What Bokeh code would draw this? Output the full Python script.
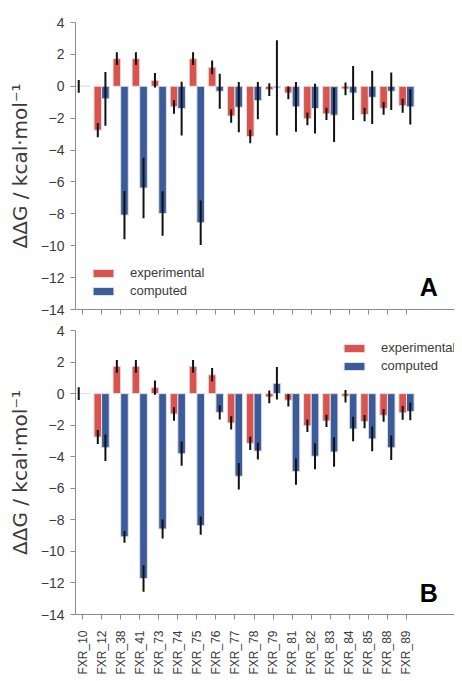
import math
import numpy as np
from bokeh.plotting import figure
from bokeh.models import Range1d, FixedTicker, Legend, LegendItem, Label, ColumnDataSource
from bokeh.layouts import column
from bokeh.transform import dodge
from bokeh.embed import file_html
from bokeh.resources import INLINE

nan = float("nan")

names = ["FXR_10", "FXR_12", "FXR_38", "FXR_41", "FXR_73", "FXR_74", "FXR_75", "FXR_76", "FXR_77",
         "FXR_78", "FXR_79", "FXR_81", "FXR_82", "FXR_83", "FXR_84", "FXR_85", "FXR_88", "FXR_89"]

experimental = [0.0, -2.75, 1.73, 1.73, 0.38, -1.29, 1.73, 1.19, -1.86,
                -3.15, -0.21, -0.42, -2.04, -1.73, -0.17, -1.77, -1.38, -1.22]
experimental_err = [0.40, 0.44, 0.40, 0.40, 0.45, 0.43, 0.40, 0.43, 0.42,
                    0.42, 0.40, 0.40, 0.40, 0.39, 0.40, 0.42, 0.40, 0.44]

computed_a = [0.0, -0.79, -8.08, -6.38, -7.98, -1.40, -8.56, -0.31, -1.31,
              -0.90, -0.10, -1.29, -1.40, -1.81, -0.42, -0.69, -0.31, -1.29]
computed_a_err = [nan, 1.68, 1.51, 1.90, 1.40, 1.69, 1.39, 1.10, 1.58,
                  1.17, 2.98, 1.56, 1.56, 1.69, 1.69, 1.67, 1.18, 1.10]

computed_b = [0.0, -3.43, -9.08, -11.72, -8.58, -3.81, -8.37, -1.19, -5.23,
              -3.64, 0.65, -4.94, -3.97, -3.70, -2.24, -2.87, -3.43, -1.13]
computed_b_err = [nan, 0.84, 0.37, 0.84, 0.60, 0.77, 0.58, 0.45, 0.84,
                  0.54, 1.03, 0.83, 0.83, 0.94, 0.78, 0.78, 0.78, 0.56]

y_ticks = [4, 2, 0, -2, -4, -6, -8, -10, -12, -14]

RED = "#d9534f"
BLUE = "#3b5b9a"
AXIS = "#8c8c8c"
TXT = "#3a3a3a"
FONT = "Liberation Sans"


def make_panel(comp, comp_err, tag, show_xlabels, height, border_top, border_bottom,
               legend_loc, tag_y):
    idx = np.arange(len(names))
    e = np.array(experimental, dtype=float)
    ee = np.array(experimental_err, dtype=float)
    c = np.array(comp, dtype=float)
    ce = np.array(comp_err, dtype=float)
    src = ColumnDataSource(dict(
        x=idx, exp=e, comp=c,
        exp_lo=e - ee, exp_hi=e + ee,
        comp_lo=c - ce, comp_hi=c + ce,
    ))
    p = figure(width=454, height=height, output_backend="svg", toolbar_location=None,
               x_range=Range1d(-0.37, 19.52), y_range=Range1d(-14, 4),
               min_border_left=75, min_border_right=0,
               min_border_top=border_top, min_border_bottom=border_bottom)
    p.outline_line_color = None
    p.grid.visible = False
    p.background_fill_color = "white"

    r_exp = p.vbar(x=dodge("x", -0.2), width=0.4, top="exp", bottom=0, source=src,
                   fill_color=RED, line_color="#e2e2e2", line_width=1)
    r_comp = p.vbar(x=dodge("x", 0.2), width=0.4, top="comp", bottom=0, source=src,
                    fill_color=BLUE, line_color="#e2e2e2", line_width=1)
    p.segment(x0=dodge("x", -0.2), y0="exp_lo", x1=dodge("x", -0.2), y1="exp_hi",
              source=src, line_color="#111111", line_width=2)
    p.segment(x0=dodge("x", 0.2), y0="comp_lo", x1=dodge("x", 0.2), y1="comp_hi",
              source=src, line_color="#111111", line_width=2)

    # y axis
    yax = p.yaxis[0]
    yax.ticker = FixedTicker(ticks=y_ticks)
    yax.major_label_overrides = {t: str(t).replace("-", "\u2212") for t in y_ticks}
    yax.minor_tick_line_color = None
    yax.major_tick_in = 0
    yax.major_tick_out = 5
    yax.axis_line_color = AXIS
    yax.major_tick_line_color = AXIS
    yax.major_label_text_font = FONT
    yax.major_label_text_font_size = "14px"
    yax.major_label_text_color = TXT
    yax.major_label_standoff = 6
    yax.axis_label = "\u0394\u0394G / kcal\u00b7mol\u207b\u00b9"
    yax.axis_label_text_font = "DejaVu Sans"
    yax.axis_label_text_font_style = "normal"
    yax.axis_label_text_font_size = "20px"
    yax.axis_label_text_color = TXT
    yax.axis_label_standoff = 6

    # x axis
    xax = p.xaxis[0]
    xax.ticker = FixedTicker(ticks=list(range(len(names))))
    xax.minor_tick_line_color = None
    xax.major_tick_in = 0
    xax.major_tick_out = 5
    xax.axis_line_color = AXIS
    xax.major_tick_line_color = AXIS
    xax.major_label_text_font = FONT
    xax.major_label_text_color = TXT
    xax.major_label_text_font_size = "12px"
    if show_xlabels:
        xax.major_label_overrides = {i: n for i, n in enumerate(names)}
        xax.major_label_orientation = math.pi / 2
        xax.major_label_standoff = 11
    else:
        xax.major_label_overrides = {i: "" for i in range(len(names))}
        xax.major_label_standoff = 0

    legend = Legend(items=[LegendItem(label="experimental", renderers=[r_exp]),
                           LegendItem(label="computed", renderers=[r_comp])],
                    location=legend_loc, padding=0, margin=0, spacing=3,
                    glyph_width=26, glyph_height=10, label_height=10,
                    label_standoff=14, label_text_font=FONT, label_text_font_size="13px",
                    label_text_color=TXT, background_fill_alpha=0, border_line_color=None)
    p.add_layout(legend, "center")

    p.add_layout(Label(x=17.7, y=tag_y, text=tag, text_font=FONT, text_font_style="bold",
                       text_font_size="25px", text_color="black", text_baseline="alphabetic"))
    return p


pa = make_panel(computed_a, computed_a_err, "A", False, 321, 22, 12, (15, 11), -12.6)
pb = make_panel(computed_b, computed_b_err, "B", True, 356, 9, 60, (266, 241), -12.65)

layout = column(pa, pb, spacing=0)
open("out.html", "w").write(file_html(layout, INLINE))
